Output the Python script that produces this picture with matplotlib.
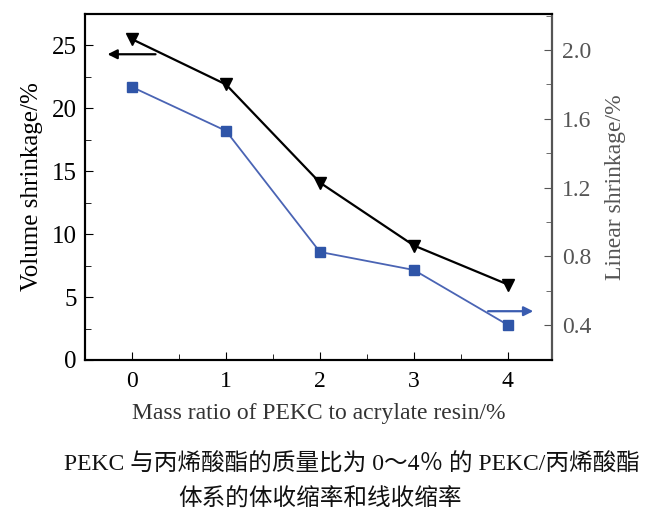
import matplotlib
matplotlib.use("Agg")
import matplotlib.pyplot as plt
from matplotlib.ticker import MultipleLocator

plt.rcParams['font.family'] = ['Liberation Serif', 'Noto Sans CJK SC']

# data
mass_ratio = [0, 1, 2, 3, 4]
volume_shrinkage = [25.5, 21.9, 14.1, 9.1, 6.0]      # left axis, %
linear_shrinkage = [1.785, 1.53, 0.825, 0.72, 0.40]  # right axis, %
x_ticks = [0, 1, 2, 3, 4]
left_ticks = [0, 5, 10, 15, 20, 25]
right_ticks = [0.4, 0.8, 1.2, 1.6, 2.0]

fig = plt.figure(figsize=(6.56, 5.17), dpi=100)
ax = fig.add_axes([85 / 656, 1 - 360 / 517, 467 / 656, 346 / 517])
ax2 = ax.twinx()

ax.plot(mass_ratio, volume_shrinkage, color='black', lw=1.6,
        marker='v', ms=9, zorder=3)
ax2.plot(mass_ratio, linear_shrinkage, color='#4a64b4', lw=1.3,
         marker='s', ms=7, mfc='#2f55a8', mec='#2f55a8', zorder=3)

ax.set_xlim(-0.5, 4.47)
ax.set_ylim(0, 27.5)
ax2.set_ylim(0.196, 2.21)

ax.set_xticks(x_ticks)
ax.xaxis.set_minor_locator(MultipleLocator(0.5))
ax.set_yticks(left_ticks)
ax.yaxis.set_minor_locator(MultipleLocator(2.5))
ax2.set_yticks(right_ticks)
ax2.set_yticklabels([f"{v:.1f}" for v in right_ticks])
ax2.yaxis.set_minor_locator(MultipleLocator(0.2))

ax.tick_params(axis='both', which='both', direction='in', top=False, right=False)
ax.tick_params(axis='y', which='major', length=6, labelsize=18, pad=6)
ax.tick_params(axis='y', which='minor', length=4)
ax.tick_params(axis='x', which='major', length=6, labelsize=17, pad=8)
ax.tick_params(axis='x', which='minor', length=4)
ax2.tick_params(axis='y', which='both', direction='in', colors='#555555',
                labelcolor='#555555', labelsize=17)
ax2.tick_params(axis='y', which='major', length=6, pad=7)
ax2.tick_params(axis='y', which='minor', length=4)

for s in ax.spines.values():
    s.set_linewidth(1.5)
for s in ax2.spines.values():
    s.set_linewidth(1.5)
ax2.spines['right'].set_color('#555555')

ax.set_xlabel("Mass ratio of PEKC to acrylate resin/%", fontsize=17,
              color='#333333', labelpad=8)
ax.set_ylabel("Volume shrinkage/%", fontsize=18, labelpad=6)
ax2.set_ylabel("Linear shrinkage/%", fontsize=17, color='#555555', labelpad=10)

# arrows pointing to the axis each series belongs to
ax.annotate("", xy=(-0.29, 24.3), xytext=(0.28, 24.3),
            arrowprops=dict(arrowstyle='-|>', color='black', lw=1.6,
                            mutation_scale=14))
ax2.annotate("", xy=(4.3, 0.48), xytext=(3.76, 0.48),
             arrowprops=dict(arrowstyle='-|>', color='#3a5cb0', lw=1.6,
                             mutation_scale=14))

fig.text(352 / 656, 1 - 465 / 517, "PEKC 与丙烯酸酯的质量比为 0～4％ 的 PEKC/丙烯酸酯",
         ha='center', va='center', fontsize=17, color='#111111')
fig.text(320 / 656, 1 - 500 / 517, "体系的体收缩率和线收缩率",
         ha='center', va='center', fontsize=17, color='#111111')

fig.savefig("out.png", dpi=100)
